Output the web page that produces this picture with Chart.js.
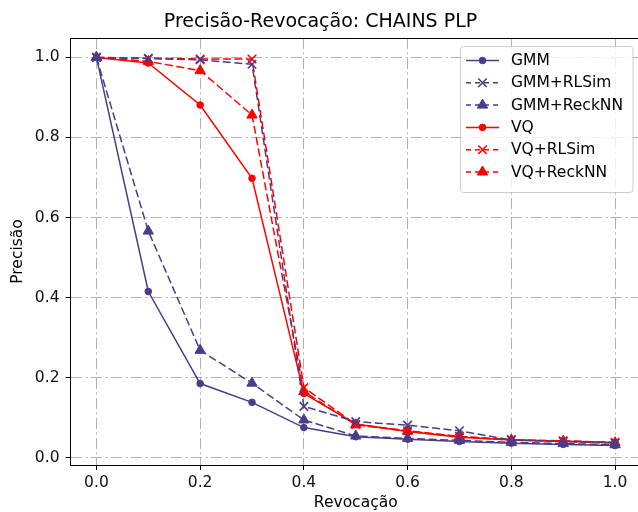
<!DOCTYPE html>
<html>
<head>
<meta charset="utf-8">
<script src="https://cdn.jsdelivr.net/npm/chart.js@4/dist/chart.umd.min.js"></script>
<style>
  html, body { margin: 0; padding: 0; background: #fff; overflow: hidden; }
  #wrap { width: 660px; height: 512px; }
</style>
</head>
<body>
<div id="wrap"><canvas id="prChart" width="660" height="512"></canvas></div>
<script>
// recall levels (x axis)
const recall = [0.0, 0.1, 0.2, 0.3, 0.4, 0.5, 0.6, 0.7, 0.8, 0.9, 1.0];

// precision values
const gmm        = [1.0, 0.415, 0.185, 0.138, 0.075, 0.052, 0.046, 0.040, 0.036, 0.033, 0.030];
const gmmRLSim   = [1.0, 0.997, 0.994, 0.983, 0.128, 0.090, 0.081, 0.067, 0.044, 0.040, 0.036];
const gmmReckNN  = [1.0, 0.566, 0.268, 0.186, 0.094, 0.054, 0.048, 0.043, 0.038, 0.035, 0.032];
const vq         = [1.0, 0.986, 0.881, 0.698, 0.160, 0.084, 0.065, 0.051, 0.044, 0.041, 0.038];
const vqRLSim    = [1.0, 0.998, 0.996, 0.996, 0.175, 0.083, 0.067, 0.053, 0.045, 0.042, 0.038];
const vqReckNN   = [1.0, 0.990, 0.967, 0.856, 0.165, 0.082, 0.066, 0.052, 0.044, 0.041, 0.037];

const seriesNames = ['GMM', 'GMM+RLSim', 'GMM+ReckNN', 'VQ', 'VQ+RLSim', 'VQ+ReckNN'];
const xTicks = [0.0, 0.2, 0.4, 0.6, 0.8, 1.0];
const yTicks = [0.0, 0.2, 0.4, 0.6, 0.8, 1.0];

const NAVY = '#483D8B';
const RED = '#FF0000';
const FONT = 'DejaVu Sans';
const DASH = [8, 3.5];

function makeSet(label, values, color, style, dashed) {
  let radius = 3.3;
  if (style === 'crossRot') radius = 6;
  if (style === 'triangle') radius = 6;
  return {
    label: label,
    data: recall.map((r, i) => ({ x: r, y: values[i] })),
    borderColor: color,
    backgroundColor: color,
    borderWidth: 1.5,
    borderDash: dashed ? DASH : [],
    pointStyle: style,
    pointRadius: radius,
    pointHoverRadius: radius,
    pointBorderWidth: style === 'crossRot' ? 1.6 : 1,
    pointBorderColor: color,
    pointBackgroundColor: color,
    tension: 0,
    fill: false
  };
}

const datasets = [
  makeSet(seriesNames[0], gmm, NAVY, 'circle', false),
  makeSet(seriesNames[1], gmmRLSim, NAVY, 'crossRot', true),
  makeSet(seriesNames[2], gmmReckNN, NAVY, 'triangle', true),
  makeSet(seriesNames[3], vq, RED, 'circle', false),
  makeSet(seriesNames[4], vqRLSim, RED, 'crossRot', true),
  makeSet(seriesNames[5], vqReckNN, RED, 'triangle', true)
];

// matplotlib-like legend box in the upper right corner, plus the top spine
const boxLegend = {
  id: 'boxLegend',
  afterDatasetsDraw(chart) {
    const ctx = chart.ctx;
    const area = chart.chartArea;
    ctx.save();
    // top spine
    ctx.strokeStyle = '#000';
    ctx.lineWidth = 1;
    ctx.beginPath();
    ctx.moveTo(area.left, area.top + 0.5);
    ctx.lineTo(area.right, area.top + 0.5);
    ctx.stroke();

    const bx = 460.5, by = 46.5, bw = 172.5, bh = 146;
    ctx.fillStyle = 'rgba(255,255,255,0.8)';
    ctx.strokeStyle = '#cccccc';
    ctx.lineWidth = 1;
    ctx.beginPath();
    ctx.roundRect(bx, by, bw, bh, 3);
    ctx.fill();
    ctx.stroke();

    ctx.font = '15.5px "' + FONT + '"';
    ctx.textBaseline = 'middle';
    ctx.textAlign = 'left';
    chart.data.datasets.forEach((ds, i) => {
      const y = 60.5 + i * 22.3;
      ctx.strokeStyle = ds.borderColor;
      ctx.lineWidth = 1.5;
      ctx.setLineDash(ds.borderDash.length ? [5, 4] : []);
      ctx.beginPath();
      ctx.moveTo(466, y);
      ctx.lineTo(499, y);
      ctx.stroke();
      ctx.setLineDash([]);
      ctx.fillStyle = ds.backgroundColor;
      ctx.strokeStyle = ds.borderColor;
      ctx.lineWidth = ds.pointBorderWidth;
      Chart.helpers.drawPoint(ctx, {
        pointStyle: ds.pointStyle,
        radius: ds.pointRadius,
        rotation: 0,
        borderWidth: ds.pointBorderWidth
      }, 482.5, y);
      ctx.fillStyle = '#000';
      ctx.fillText(ds.label, 511, y + 0.5);
    });
    ctx.restore();
  }
};

const gridOpts = {
  color: '#b0b0b0',
  lineWidth: 1,
  tickColor: '#000',
  tickLength: 5,
  tickWidth: 1
};

new Chart(document.getElementById('prChart'), {
  type: 'line',
  data: { datasets: datasets },
  options: {
    responsive: false,
    animation: false,
    devicePixelRatio: 1,
    layout: { padding: { left: 0, right: 19, top: 0, bottom: 0 } },
    plugins: {
      legend: { display: false },
      tooltip: { enabled: false },
      title: {
        display: true,
        text: 'Precisão-Revocação: CHAINS PLP',
        color: '#000',
        font: { family: FONT, size: 19, weight: 'normal', lineHeight: 1.2 },
        padding: { top: 11, bottom: 4.2 }
      }
    },
    scales: {
      x: {
        type: 'linear',
        min: -0.05,
        max: 1.05,
        afterFit: s => { s.height = 47; },
        afterBuildTicks: s => { s.ticks = xTicks.map(v => ({ value: v })); },
        grid: gridOpts,
        border: { display: true, color: '#000', width: 1, dash: [11, 3.5, 2, 3.5] },
        ticks: {
          color: '#111',
          padding: 4,
          font: { family: FONT, size: 15.5 },
          callback: v => v.toFixed(1)
        },
        title: {
          display: true,
          text: 'Revocação',
          color: '#000',
          font: { family: FONT, size: 15.5 },
          padding: { top: 0, bottom: 0 }
        }
      },
      y: {
        type: 'linear',
        min: -0.0185,
        max: 1.0485,
        afterFit: s => { s.width = 70.5; },
        afterBuildTicks: s => { s.ticks = yTicks.map(v => ({ value: v })); },
        grid: gridOpts,
        border: { display: true, color: '#000', width: 1, dash: [11, 3.5, 2, 3.5] },
        ticks: {
          color: '#111',
          padding: 6,
          font: { family: FONT, size: 15.5 },
          callback: v => v.toFixed(1)
        },
        title: {
          display: true,
          text: 'Precisão',
          color: '#000',
          font: { family: FONT, size: 15.5 },
          padding: { top: 8.7, bottom: 0 }
        }
      }
    }
  },
  plugins: [boxLegend]
});
</script>
</body>
</html>
